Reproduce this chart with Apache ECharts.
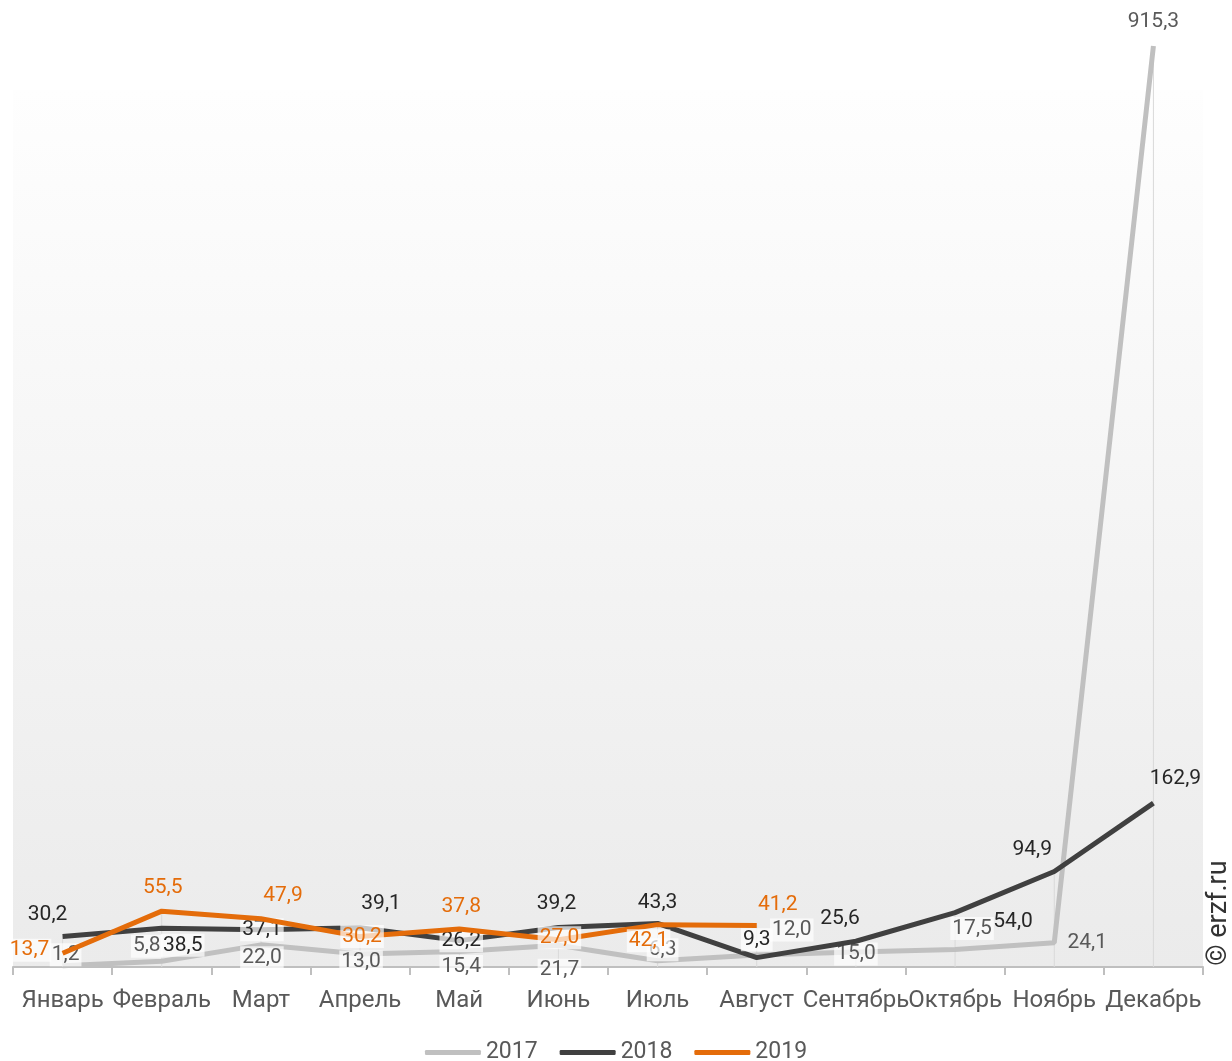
<!DOCTYPE html>
<html><head><meta charset="utf-8">
<script src="https://cdn.jsdelivr.net/npm/echarts@6/dist/echarts.min.js"></script>
<style>html,body{margin:0;padding:0;background:#fff}#c{width:1232px;height:1061px}</style>
</head><body><div id="c"></div>
<script>
const categories = ['Январь','Февраль','Март','Апрель','Май','Июнь','Июль','Август','Сентябрь','Октябрь','Ноябрь','Декабрь'];
const values2017 = [1.2, 5.8, 22.0, 13.0, 15.4, 21.7, 6.3, 12.0, 15.0, 17.5, 24.1, 915.3];
const values2018 = [30.2, 38.5, 37.1, 39.1, 26.2, 39.2, 43.3, 9.3, 25.6, 54.0, 94.9, 162.9];
const values2019 = [13.7, 55.5, 47.9, 30.2, 37.8, 27.0, 42.1, 41.2];
const seriesNames = ['2017', '2018', '2019'];

// label styling (offsets from point, whether a light box is drawn)
const offsets2017 = [[3,-11],[-15,-15],[1,13],[1,8],[2,15],[1,25],[5,-11],[35,-25],[0,2],[17,-21],[33,0],[0,-24]];
const boxes2017 = [1,1,1,1,1,1,1,1,1,1,0,0];
const offsets2018 = [[-15,-22],[21,17],[1,0],[21,-24],[2,0],[-2,-24],[0,-21],[0,-18],[-16,-22],[58,9],[-22,-22],[22,-24]];
const boxes2018 = [0,1,1,0,1,0,0,1,0,0,0,0];
const offsets2019 = [[-33,-3],[1,-23],[22,-23],[2,0],[2,-22],[1,-2],[-9,16],[21,-21]];
const boxes2019 = [1,0,0,1,0,1,1,0];

const fmt = v => v.toFixed(1).replace('.', ',');
function build(vals, boxes) {
  return vals.map((v, i) => ({
    value: v,
    label: {backgroundColor: boxes[i] ? 'rgba(255,255,255,0.7)' : 'transparent'}
  }));
}
const layoutFrom = offs => (p => ({dx: offs[p.dataIndex][0], dy: offs[p.dataIndex][1]}));
const dropVals = categories.map((c, i) => Math.max(values2017[i] ?? 0, values2018[i] ?? 0, values2019[i] ?? 0));

const chart = echarts.init(document.getElementById('c'), null, {renderer: 'canvas'});
const baseLabel = {show: true, position: 'inside', fontFamily: 'Roboto', fontSize: 21, padding: [1, 2],
  formatter: p => fmt(p.value)};
const lineCommon = {type: 'line', showSymbol: true, symbol: 'circle', symbolSize: 0};
chart.setOption({
  animation: false,
  textStyle: {fontFamily: 'Roboto'},
  graphic: [
    {type: 'rect', z: -10, shape: {x: 13, y: 90, width: 1190, height: 877},
      style: {fill: new echarts.graphic.LinearGradient(0, 0, 0, 1, [{offset: 0, color: '#fefefe'}, {offset: 1, color: '#ebebeb'}])}},
    {type: 'text', x: 1219, y: 913, rotation: Math.PI / 2,
      style: {text: '© erzf.ru', fill: '#333', fontSize: 27, fontFamily: 'Roboto', align: 'center', verticalAlign: 'middle'}}
  ],
  grid: {left: 13, right: 29, top: 46, bottom: 94},
  legend: {
    top: 1036, left: 'center', itemWidth: 56, itemHeight: 5, itemGap: 22, icon: 'roundRect',
    data: seriesNames,
    textStyle: {fontSize: 23, color: '#595959', fontFamily: 'Roboto'}
  },
  xAxis: {
    type: 'category', data: categories, boundaryGap: true,
    axisLine: {lineStyle: {color: '#bfbfbf', width: 2}},
    axisTick: {show: true, length: 8, lineStyle: {color: '#bfbfbf', width: 2}},
    axisLabel: {fontSize: 24, color: '#595959', margin: 22, interval: 0}
  },
  yAxis: {type: 'value', min: 0, max: 'dataMax', show: false, splitLine: {show: false}},
  series: [
    {type: 'bar', data: dropVals, barWidth: 1, silent: true, itemStyle: {color: '#d9d9d9'}, z: 1, legendHoverLink: false},
    Object.assign({}, lineCommon, {name: seriesNames[0], data: build(values2017, boxes2017), labelLayout: layoutFrom(offsets2017),
      lineStyle: {width: 5, color: '#c0c0c0'}, itemStyle: {color: '#c0c0c0'}, z: 2,
      label: Object.assign({}, baseLabel, {color: '#595959'})}),
    Object.assign({}, lineCommon, {name: seriesNames[1], data: build(values2018, boxes2018), labelLayout: layoutFrom(offsets2018),
      lineStyle: {width: 5, color: '#404040'}, itemStyle: {color: '#404040'}, z: 3,
      label: Object.assign({}, baseLabel, {color: '#262626'})}),
    Object.assign({}, lineCommon, {name: seriesNames[2], data: build(values2019, boxes2019), labelLayout: layoutFrom(offsets2019),
      lineStyle: {width: 5, color: '#e46c0a'}, itemStyle: {color: '#e46c0a'}, z: 4,
      label: Object.assign({}, baseLabel, {color: '#e46c0a'})})
  ]
});
</script></body></html>
